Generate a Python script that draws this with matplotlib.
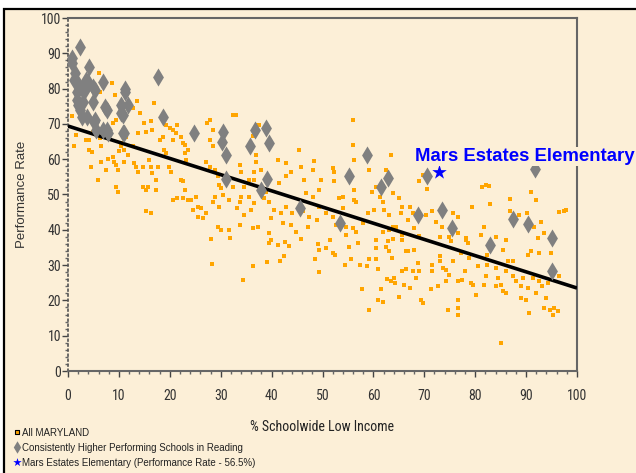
import matplotlib
matplotlib.use('Agg')
import matplotlib.pyplot as plt
from matplotlib.patches import Rectangle
from matplotlib.ticker import MultipleLocator
from matplotlib import font_manager

# all Maryland schools (% low income, performance rate)
md_x = [0.8, 1.2, 1.6, 4.2, 4.7, 4.5, 5.8, 6.5, 7.8, 8.8, 9.1, 9.4, 9.8, 9.4, 9.8, 10.1, 10.4, 10.7, 11.1, 11.1,
        11.7, 11.4, 8.8, 9.4, 13.7, 15.0, 15.3, 16.3, 16.6, 12.7, 13.0, 13.4, 13.7, 14.7, 14.7, 15.3, 15.7, 16.0,
        16.3, 16.6, 17.3, 17.3, 17.6, 18.0, 18.6, 18.9, 19.3, 19.9, 20.2, 20.6, 20.6, 21.2, 21.5, 22.2, 22.5, 22.9,
        22.9, 23.2, 23.5, 22.2, 22.5, 22.9, 22.5, 23.5, 24.2, 24.5, 25.2, 25.5, 26.1, 25.5, 26.5, 27.1, 27.8, 28.4,
        27.1, 27.8, 28.8, 29.4, 29.7, 30.1, 30.4, 28.8, 28.4, 29.7, 29.4, 30.1, 31.7, 31.7, 32.4, 27.8, 27.4, 16.3,
        15.3, 20.6, 21.5, 19.3, 6.8, 6.2, 4.2, 7.5, 6.5, 3.5, 4.9, 28.4, 32.4,
        8.6, 6.3, 13.6, 12.8, 16.8, 33.1, 37.4, 14.1, 20.0, 6.0, 9.2,
        33.0, 36.3, 37.6, 36.9, 36.9, 37.9, 36.6, 33.7, 34.0, 35.6, 36.6, 34.6, 35.6, 34.0, 33.7, 35.9, 36.6, 38.6,
        38.9, 41.2, 42.8, 41.5, 42.8, 43.8, 45.4, 45.8, 46.4, 48.4, 48.1, 49.7, 46.8, 48.1, 49.4, 52.0, 52.3, 52.3,
        53.3, 54.0, 55.9, 55.9, 56.1, 54.0, 56.2, 56.6, 56.2, 59.2, 59.8, 60.5, 61.2, 62.5, 63.5, 63.8, 65.1, 65.4,
        65.7, 61.8, 62.1, 63.1, 63.8, 60.2, 58.9, 57.9, 49.4, 50.7, 49.0, 47.4, 46.1, 44.1, 42.8, 41.8, 40.5, 39.5,
        39.9, 42.2, 43.8, 44.8, 47.1, 36.3, 37.3, 33.7, 39.5, 52.0, 52.6, 54.6, 54.6, 55.9, 56.6, 61.8, 63.1, 64.4,
        65.7, 33.3, 34.6,
        34.3, 36.4, 39.0, 39.4, 39.9, 41.3, 41.7, 42.4, 42.6, 43.5, 45.8, 48.5, 49.2, 49.4, 49.4, 50.7, 51.5, 52.0,
        52.5, 54.4, 55.3, 55.6, 57.0, 57.4, 57.8, 58.7, 59.1, 59.2, 60.5, 60.5, 60.6, 61.0, 61.0, 61.4, 61.8, 62.5,
        62.8, 63.0, 62.6, 63.5, 63.6, 64.1, 64.3, 65.0, 65.7, 66.1, 66.4, 66.5, 63.9, 65.7, 28.1, 28.3, 31.9,
        69.7, 69.0, 70.5, 81.3, 82.1, 82.8, 86.8, 91.0, 92.0, 67.1, 67.7, 70.3, 71.6, 72.3, 73.5, 75.6, 76.6, 76.7,
        79.4, 82.9, 84.1, 81.8, 86.8, 88.7, 90.1, 92.9, 96.4, 97.5, 93.6, 91.6, 81.1, 78.2, 74.9, 69.0, 68.0, 66.7,
        73.0,
        66.7, 68.0, 67.7, 68.4, 69.0, 69.3, 69.7, 68.7, 71.3, 71.6, 71.6, 72.6, 73.0, 73.0, 73.6, 74.3, 74.6, 74.9,
        75.2, 75.6, 76.6, 76.6, 76.6, 76.6, 77.2, 77.5, 77.9, 78.8, 79.2, 79.5, 80.2, 80.5, 81.8, 82.1, 82.4, 82.4,
        84.1, 84.1, 84.4, 85.1, 85.1, 85.4, 85.4, 86.0, 86.0, 86.4, 87.4, 87.4, 88.0, 89.0, 89.0, 89.3, 90.0, 90.3,
        90.3, 90.6, 91.0, 91.3, 91.9, 92.6, 92.6, 93.2, 93.6, 93.9, 94.6, 94.9, 95.2, 95.5, 96.2, 92.3, 78.2, 78.5,
        86.0, 74.3, 67.1, 97.8, 96.5, 94.3]
md_y = [72.3, 63.6, 66.9, 62.6, 61.9, 57.9, 54.1, 59.3, 60.0, 60.7, 59.3, 58.4, 57.0, 52.2, 50.8, 62.2, 63.6, 64.5,
        62.6, 59.3, 61.2, 66.4, 70.2, 71.1, 67.4, 70.2, 67.8, 70.7, 68.3, 63.6, 58.9, 57.9, 56.5, 57.9, 52.2, 51.3,
        52.2, 59.8, 57.9, 56.0, 54.1, 51.3, 57.9, 65.5, 66.4, 62.6, 61.7, 57.9, 56.5, 65.5, 68.3, 67.4, 69.7, 66.4,
        64.5, 64.1, 61.7, 59.8, 62.6, 54.1, 53.7, 51.3, 48.9, 48.5, 48.5, 45.6, 49.4, 46.6, 46.1, 43.7, 43.3, 44.7,
        65.5, 63.6, 59.3, 57.9, 57.0, 55.1, 52.7, 51.8, 49.9, 49.4, 48.0, 46.6, 40.9, 40.0, 40.0, 48.5, 52.2, 71.1,
        70.2, 44.7, 45.2, 48.5, 48.9, 69.7, 67.4, 65.9, 65.5, 57.0, 63.6, 65.5, 67.8, 68.3, 72.6,
        81.5, 79.1, 76.5, 74.4, 75.8, 72.5, 69.7, 73.0, 68.8, 84.3, 78.2,
        72.5, 66.6, 69.7, 61.2, 59.3, 57.0, 56.5, 58.4, 56.5, 54.1, 54.1, 52.2, 49.4, 49.4, 48.0, 45.6, 47.5, 48.9,
        50.8, 59.8, 59.0, 53.2, 55.1, 56.5, 62.6, 57.9, 54.1, 59.6, 56.8, 54.1, 50.4, 49.4, 51.3, 57.4, 56.5, 53.7,
        48.9, 49.4, 71.1, 64.1, 59.8, 46.1, 48.5, 48.0, 51.3, 56.8, 50.8, 52.2, 49.4, 57.0, 61.2, 50.4, 48.9, 44.7,
        46.6, 48.0, 45.6, 44.2, 40.9, 45.6, 44.7, 41.9, 46.6, 44.7, 42.8, 43.7, 45.2, 44.7, 46.6, 44.7, 45.6, 48.0,
        43.3, 41.9, 41.4, 39.5, 40.9, 40.4, 40.9, 41.4, 39.0, 43.7, 41.4, 40.9, 38.6, 40.4, 39.5, 39.5, 40.0, 40.9,
        38.6, 46.1, 44.2,
        25.9, 29.7, 30.9, 36.3, 37.2, 35.6, 31.3, 32.5, 36.6, 35.3, 37.4, 31.8, 36.0, 34.4, 28.0, 34.9, 37.2, 33.3,
        32.8, 30.1, 35.1, 31.8, 36.3, 30.0, 23.3, 29.7, 31.6, 17.2, 37.2, 34.9, 31.6, 28.9, 20.2, 23.3, 19.5, 35.1,
        36.8, 33.9, 26.2, 25.4, 32.0, 26.4, 24.8, 20.9, 28.3, 24.5, 29.0, 34.1, 37.5, 37.2, 37.5, 30.3, 37.7,
        55.5, 53.7, 51.5, 52.1, 52.7, 52.4, 48.7, 50.8, 48.5, 46.6, 44.7, 44.2, 45.2, 42.3, 40.7, 44.7, 43.7, 39.2,
        46.6, 47.3, 38.1, 40.9, 45.4, 44.2, 44.9, 42.1, 45.1, 45.2, 39.2, 40.9, 38.5, 37.6, 37.9, 38.3, 40.4, 42.8,
        38.1,
        33.9, 34.4, 28.3, 26.4, 28.3, 20.2, 19.3, 30.6, 23.1, 30.1, 28.3, 24.0, 32.5, 31.1, 29.2, 25.4, 17.4, 27.3,
        36.8, 31.1, 25.4, 20.2, 17.9, 16.0, 33.5, 25.9, 28.3, 32.0, 25.0, 24.5, 21.6, 29.7, 24.5, 26.8, 30.1, 33.0,
        29.2, 24.0, 26.4, 24.5, 8.0, 22.6, 34.4, 22.1, 28.3, 31.1, 31.1, 26.8, 25.4, 24.0, 20.7, 26.4, 20.2, 33.0,
        23.5, 16.5, 33.9, 26.4, 22.1, 33.5, 25.4, 24.0, 17.9, 20.7, 17.4, 33.5, 16.0, 17.9, 16.9, 37.7, 37.2, 36.3,
        37.2, 28.7, 23.5, 45.5, 27.0, 25.0]

# consistently higher performing schools in reading
hp_x = [2.4, 0.7, 0.7, 4.2, 1.4, 1.2, 1.7, 3.5, 4.0, 5.0, 5.3, 6.8, 11.2, 11.2, 17.6, 1.7, 2.7, 3.3, 1.7, 2.0,
        3.0, 5.0, 7.3, 7.6, 10.5, 11.8, 10.5, 10.9, 2.4, 2.7, 3.7, 5.3, 18.6, 5.5, 7.6, 10.9, 24.8, 30.5, 30.2,
        31.0, 36.7, 35.8, 31.0, 5.2, 6.8, 7.8, 11.0, 38.9, 39.4, 58.7, 55.3, 62.9, 61.4, 39.1, 37.9, 45.6, 53.5,
        70.5, 91.8, 68.7, 73.5, 75.4, 87.5, 90.4, 95.0, 82.9, 95.1]
hp_y = [91.8, 88.6, 87.2, 86.0, 84.4, 82.4, 82.0, 82.4, 82.0, 80.5, 79.6, 82.0, 80.0, 79.0, 83.4, 79.0, 80.0,
        79.6, 76.8, 75.4, 76.3, 76.3, 74.9, 74.0, 75.4, 75.4, 73.0, 72.5, 74.0, 72.0, 72.0, 71.0, 72.0, 68.3, 68.3,
        67.3, 67.3, 67.8, 65.0, 61.2, 68.3, 63.7, 54.3, 70.6, 68.3, 67.3, 67.3, 68.7, 64.5, 61.2, 55.2, 54.6, 52.2,
        54.3, 51.3, 46.1, 42.0, 55.2, 57.1, 44.2, 45.6, 40.4, 43.2, 41.6, 37.6, 35.6, 28.2]

# Mars Estates Elementary
mars_x = [72.8]
mars_y = [56.5]

# statewide trend line
trend_x = [0, 100]
trend_y = [69.4, 23.5]

x_ticks = list(range(0, 101, 10))
y_ticks = list(range(0, 101, 10))

beige = '#fcefd7'
sans = ['Liberation Sans', 'DejaVu Sans']

# narrow face for the axis numbers, if the system has one
names = set(f.name for f in font_manager.fontManager.ttflist)
narrow_fp = font_manager.FontProperties(family='DejaVu Sans', stretch='condensed')
for cand in ['Liberation Sans Narrow', 'Roboto Condensed', 'Open Sans Condensed', 'DejaVu Sans Condensed']:
    if cand in names:
        narrow_fp = font_manager.FontProperties(family=cand)
        break

fig = plt.figure(figsize=(6.36, 4.73), dpi=100)
fig.patch.set_facecolor('white')
frame = Rectangle((4 / 636, -0.05), 1.1, 1 - 9 / 473 + 0.05, transform=fig.transFigure,
                  facecolor=beige, edgecolor='black', linewidth=1.6, zorder=-10)
fig.add_artist(frame)

ax = fig.add_axes([68 / 636, 1 - 371 / 473, 509 / 636, 353 / 473])
ax.set_facecolor('none')

ax.scatter(md_x, md_y, marker='s', s=5, color='#ffa500', linewidths=0, zorder=2)
ax.plot(trend_x, trend_y, color='black', lw=2.6, zorder=3, solid_capstyle='butt')
ax.scatter(hp_x, hp_y, marker='d', s=85, color='#808080', linewidths=0, zorder=4, clip_on=False)
ax.scatter(mars_x, mars_y, marker='*', s=120, color='#0000ff', linewidths=0, zorder=5)
ax.text(68.2, 60.8, 'Mars Estates Elementary', color='#0000ff', fontsize=13.4, fontweight='bold',
        family=sans, ha='left', va='center', zorder=6, clip_on=False,
        bbox=dict(facecolor=beige, edgecolor='none', pad=1.0))

ax.set_xlim(0, 100)
ax.set_ylim(0, 100)
ax.set_xticks(x_ticks)
ax.set_yticks(y_ticks)
ax.xaxis.set_minor_locator(MultipleLocator(2))
ax.yaxis.set_minor_locator(MultipleLocator(2))
ax.tick_params(which='major', direction='out', length=4, width=1, color='#444444',
               labelsize=10, labelcolor='#333333')
ax.tick_params(which='minor', direction='out', length=2.5, width=1, color='#666666')
ax.tick_params(axis='x', which='major', pad=9)
ax.tick_params(axis='y', which='major', pad=1)
for lab in ax.get_xticklabels() + ax.get_yticklabels():
    lab.set_fontproperties(narrow_fp)
    lab.set_fontsize(10)

for side in ['top', 'right', 'bottom']:
    ax.spines[side].set_color('#666666')
    ax.spines[side].set_linewidth(1.5)
ax.spines['left'].set_color('#555555')
ax.spines['left'].set_linestyle((0, (1, 2)))
ax.spines['left'].set_linewidth(1.2)

ax.set_xlabel('% Schoolwide Low Income', fontproperties=narrow_fp, fontsize=10, color='#222222', labelpad=12)
ax.set_ylabel('Performance Rate', fontsize=9.5, family=sans, color='#333333', labelpad=9)

# legend block at the bottom left
fig.text(22 / 636, 1 - 433 / 473, 'All MARYLAND', fontsize=7, family=sans, color='#222222', va='center')
fig.text(22 / 636, 1 - 448 / 473, 'Consistently Higher Performing Schools in Reading', fontsize=7, family=sans,
         color='#222222', va='center')
fig.text(22 / 636, 1 - 463 / 473, 'Mars Estates Elementary (Performance Rate - 56.5%)', fontsize=7, family=sans,
         color='#222222', va='center')
leg = fig.add_axes([0, 0, 1, 1], facecolor='none', zorder=-5)
leg.set_xlim(0, 636)
leg.set_ylim(473, 0)
leg.axis('off')
leg.scatter([17], [432], marker='s', s=12, color='#ffa500', edgecolors='black', linewidths=0.8)
leg.scatter([17], [447], marker='d', s=40, color='#808080', linewidths=0)
leg.scatter([17], [462], marker='*', s=40, color='#0000ff', linewidths=0)

fig.savefig('out.png', dpi=100)
